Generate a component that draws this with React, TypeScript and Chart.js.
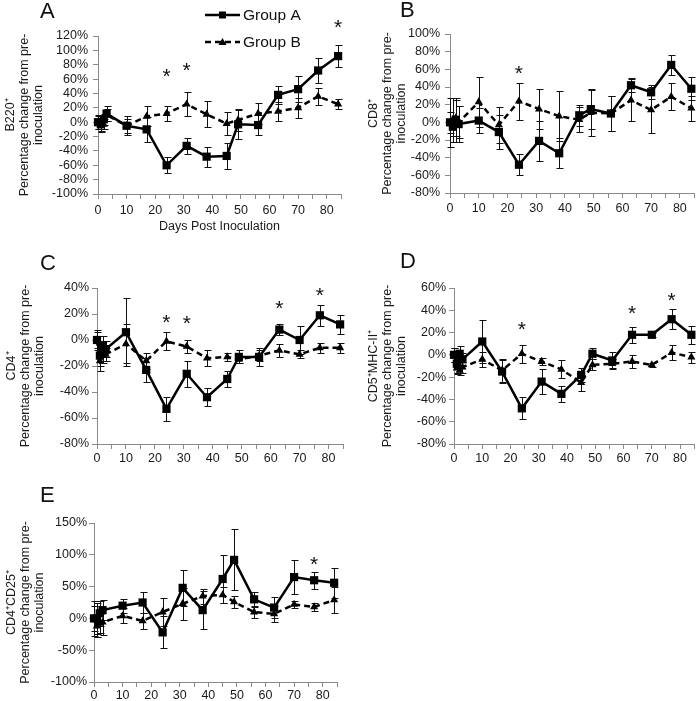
import React, { useEffect, useRef } from 'react';
import { Chart, registerables } from 'chart.js';
Chart.register(...registerables);

const FONT = "'Liberation Sans', Arial, Helvetica, sans-serif";

// Days post inoculation (x categories)
const days = [0, 1, 2, 3, 10, 17, 24, 31, 38, 45, 49, 56, 63, 70, 77, 84];
const xTickStep = 5;
const xMax = 85;

// Panel A: B220+
const aGroupA = [0, -3, 4, 12, -5, -10, -60, -33, -48, -47, -3, -4, 38, 46, 72, 92];
const aGroupAErr = [9, 9, 8, 10, 13, 17, 11, 11, 14, 18, 20, 14, 13, 18, 18, 15];
const aGroupB = [0, -5, -3, 10, -5, 8, 12, 25, 11, -2, 3, 12, 15, 20, 36, 25];
const aGroupBErr = [10, 8, 7, 8, 10, 14, 10, 17, 18, 16, 15, 15, 13, 14, 12, 7];
const aStars = [[24, 70], [31, 78], [84, 138]];

// Panel B: CD8+
const bGroupA = [0, -5, 3, -2, 2, -11, -48, -21, -35, 8, 15, 10, 42, 34, 65, 38];
const bGroupAErr = [12, 10, 25, 20, 14, 19, 12, 23, 17, 12, 23, 20, 8, 8, 11, 13];
const bGroupB = [0, 3, 5, 0, 23, -3, 24, 15, 7, 3, 11, 10, 25, 14, 29, 16];
const bGroupBErr = [28, 25, 20, 18, 28, 20, 21, 23, 28, 14, 26, 20, 24, 26, 15, 14];
const bStars = [[24, 60]];

// Panel C: CD4+
const cGroupA = [0, -12, -4, -7, 6, -23, -53, -26, -44, -30, -13, -13, 8, 0, 19, 12];
const cGroupAErr = [8, 8, 7, 6, 26, 9, 9, 10, 7, 6, 5, 7, 4, 11, 8, 7];
const cGroupB = [0, -16, -12, -11, -3, -16, -1, -5, -14, -13, -15, -12, -8, -11, -6, -6];
const cGroupBErr = [6, 8, 6, 5, 15, 6, 7, 5, 6, 3, 3, 4, 5, 3, 4, 4];
const cStars = [[24, 17], [31, 16], [63, 28], [77, 38]];

// Panel D: CD5+MHC-II+
const dGroupA = [0, -8, 1, -4, 12, -15, -48, -24, -35, -18, 1, -5, 18, 18, 32, 18];
const dGroupAErr = [6, 8, 7, 6, 19, 10, 10, 11, 7, 6, 5, 8, 7, 2, 9, 8];
const dGroupB = [0, -12, -14, -11, -4, -14, 1, -6, -13, -25, -9, -8, -6, -9, 2, -2];
const dGroupBErr = [6, 5, 4, 5, 7, 10, 8, 3, 8, 7, 5, 4, 6, 2, 7, 5];
const dStars = [[24, 27], [63, 41], [77, 53]];

// Panel E: CD4+CD25+
const eGroupA = [0, 0, 8, 13, 20, 25, -22, 48, 13, 62, 92, 30, 17, 65, 60, 56];
const eGroupAErr = [28, 25, 20, 16, 11, 17, 25, 28, 30, 38, 48, 12, 17, 27, 13, 24];
const eGroupB = [0, -12, -8, -6, 4, -4, 10, 23, 35, 37, 26, 10, 7, 22, 18, 29];
const eGroupBErr = [20, 18, 15, 20, 12, 13, 22, 25, 12, 13, 9, 10, 13, 6, 7, 21];
const eStars = [[77, 92]];

const seriesNames = ['Group A', 'Group B'];

type Panel = {
  letter: string;
  letterPos: [number, number];
  left: number; top: number; width: number; height: number;
  pad: { left: number; top: number; right: number; bottom: number };
  yWidth: number; xHeight: number; titlePad: number; xTickPad: number; yTickPad: number;
  yMin: number; yMax: number; yStep: number;
  yTitle: string[]; xTitle?: string;
  ga: number[]; gaErr: number[]; gb: number[]; gbErr: number[];
  stars: number[][];
  legend?: boolean;
};

const panels: Panel[] = [
  {
    letter: 'A', letterPos: [40, 18], left: 0, top: 0, width: 350, height: 235,
    pad: { left: 0, top: 36, right: 9, bottom: 1 }, yWidth: 98, xHeight: 40, titlePad: 4, xTickPad: 4.5, yTickPad: 5,
    yMin: -100, yMax: 120, yStep: 20,
    yTitle: ['B220\u207A', 'Percentage change from pre-', 'inoculation'], xTitle: 'Days Post Inoculation',
    ga: aGroupA, gaErr: aGroupAErr, gb: aGroupB, gbErr: aGroupBErr, stars: aStars, legend: true,
  },
  {
    letter: 'B', letterPos: [50, 17], left: 350, top: 0, width: 350, height: 235,
    pad: { left: 14, top: 34, right: 3, bottom: 17 }, yWidth: 86, xHeight: 25, titlePad: 3, xTickPad: 3, yTickPad: 5,
    yMin: -80, yMax: 100, yStep: 20,
    yTitle: ['CD8\u207A', 'Percentage change from pre-', 'inoculation'],
    ga: bGroupA, gaErr: bGroupAErr, gb: bGroupB, gbErr: bGroupBErr, stars: bStars,
  },
  {
    letter: 'C', letterPos: [40, 35], left: 0, top: 235, width: 350, height: 235,
    pad: { left: 0, top: 53, right: 7, bottom: 1 }, yWidth: 97, xHeight: 25, titlePad: 5, xTickPad: 2, yTickPad: 3,
    yMin: -80, yMax: 40, yStep: 20,
    yTitle: ['CD4\u207A', 'Percentage change from pre-', 'inoculation'],
    ga: cGroupA, gaErr: cGroupAErr, gb: cGroupB, gbErr: cGroupBErr, stars: cStars,
  },
  {
    letter: 'D', letterPos: [50, 33], left: 350, top: 235, width: 350, height: 235,
    pad: { left: 14, top: 53, right: 1, bottom: 1 }, yWidth: 90, xHeight: 25, titlePad: 3, xTickPad: 2, yTickPad: 3,
    yMin: -80, yMax: 60, yStep: 20,
    yTitle: ['CD5\u207AMHC-II\u207A', 'Percentage change from pre-', 'inoculation'],
    ga: dGroupA, gaErr: dGroupAErr, gb: dGroupB, gbErr: dGroupBErr, stars: dStars,
  },
  {
    letter: 'E', letterPos: [40, 37], left: 0, top: 465, width: 350, height: 236,
    pad: { left: 0, top: 58, right: 13, bottom: 0 }, yWidth: 94, xHeight: 19, titlePad: 5, xTickPad: 1.5, yTickPad: 2,
    yMin: -100, yMax: 150, yStep: 50,
    yTitle: ['CD4\u207ACD25\u207A', 'Percentage change from pre-', 'inoculation'],
    ga: eGroupA, gaErr: eGroupAErr, gb: eGroupB, gbErr: eGroupBErr, stars: eStars,
  },
];

const annotPlugin = {
  id: 'annot',
  beforeDatasetsDraw(chart: any, _args: any, opts: any) {
    const { ctx } = chart;
    const xs = chart.scales.x;
    const ys = chart.scales.y;
    ctx.save();
    ctx.strokeStyle = '#111';
    ctx.lineWidth = 1;
    (opts.series as { vals: number[]; errs: number[] }[]).forEach((s) => {
      s.vals.forEach((v, i) => {
        const e = s.errs[i];
        const x = Math.round(xs.getPixelForValue(days[i])) + 0.5;
        const y1 = Math.round(ys.getPixelForValue(v + e)) + 0.5;
        const y2 = Math.round(ys.getPixelForValue(v - e)) + 0.5;
        ctx.beginPath();
        ctx.moveTo(x, y1); ctx.lineTo(x, y2);
        ctx.moveTo(x - 3, y1); ctx.lineTo(x + 4, y1);
        ctx.moveTo(x - 3, y2); ctx.lineTo(x + 4, y2);
        ctx.stroke();
      });
    });
    ctx.restore();
  },
  afterDraw(chart: any, _args: any, opts: any) {
    const { ctx } = chart;
    const xs = chart.scales.x;
    const ys = chart.scales.y;
    ctx.save();
    ctx.fillStyle = '#111';
    ctx.font = `21px ${FONT}`;
    ctx.textAlign = 'center';
    ctx.textBaseline = 'alphabetic';
    (opts.stars as number[][]).forEach(([d, v]) => {
      ctx.fillText('*', xs.getPixelForValue(d), ys.getPixelForValue(v) + 11);
    });
    // panel letter
    ctx.textAlign = 'left';
    ctx.font = `22px ${FONT}`;
    ctx.fillText(opts.letter, opts.letterPos[0], opts.letterPos[1]);
    // legend
    if (opts.legend) {
      const rows = [
        { y: 15, ds: chart.data.datasets[0] },
        { y: 42, ds: chart.data.datasets[1] },
      ];
      rows.forEach((r) => {
        ctx.save();
        ctx.strokeStyle = r.ds.borderColor;
        ctx.lineWidth = r.ds.borderWidth;
        ctx.setLineDash(r.ds.borderDash || []);
        ctx.beginPath();
        ctx.moveTo(205, r.y);
        ctx.lineTo(240, r.y);
        ctx.stroke();
        ctx.restore();
        ctx.fillStyle = '#000';
        if (r.ds.pointStyle === 'rect') {
          ctx.fillRect(219, r.y - 3.5, 7, 7);
        } else {
          ctx.beginPath();
          ctx.moveTo(222.5, r.y - 4);
          ctx.lineTo(226.5, r.y + 3);
          ctx.lineTo(218.5, r.y + 3);
          ctx.closePath();
          ctx.fill();
        }
        ctx.fillStyle = '#111';
        ctx.font = `15.5px ${FONT}`;
        ctx.textBaseline = 'middle';
        ctx.fillText(r.ds.label, 243, r.y + 1);
        ctx.textBaseline = 'alphabetic';
      });
    }
    ctx.restore();
  },
};

function PanelChart({ p }: { p: Panel }) {
  const ref = useRef<HTMLCanvasElement>(null);
  useEffect(() => {
    if (!ref.current) return;
    const tickFont = { family: FONT, size: 12.5 };
    const axisColor = '#8a8a8a';
    const chart = new Chart(ref.current, {
      type: 'line',
      data: {
        datasets: [
          {
            label: seriesNames[0],
            data: days.map((d, i) => ({ x: d, y: p.ga[i] })),
            borderColor: '#000',
            backgroundColor: '#000',
            borderWidth: 2.5,
            pointStyle: 'rect',
            pointRadius: 5.8,
            pointBorderWidth: 0,
            tension: 0,
            clip: false,
            order: 1,
          } as any,
          {
            label: seriesNames[1],
            data: days.map((d, i) => ({ x: d, y: p.gb[i] })),
            borderColor: '#000',
            backgroundColor: '#000',
            borderWidth: 2.5,
            borderDash: [6, 4],
            pointStyle: 'triangle',
            pointRadius: 4.7,
            pointBorderWidth: 0,
            tension: 0,
            clip: false,
            order: 2,
          } as any,
        ],
      },
      options: {
        animation: false,
        responsive: false,
        events: [],
        layout: { padding: p.pad },
        plugins: {
          legend: { display: false },
          tooltip: { enabled: false },
          annot: {
            series: [
              { vals: p.gb, errs: p.gbErr },
              { vals: p.ga, errs: p.gaErr },
            ],
            stars: p.stars,
            letter: p.letter,
            letterPos: p.letterPos,
            legend: !!p.legend,
          },
        } as any,
        scales: {
          x: {
            type: 'linear',
            min: 0,
            max: xMax,
            ticks: {
              stepSize: xTickStep,
              autoSkip: false,
              maxRotation: 0,
              font: tickFont,
              color: '#1a1a1a',
              padding: p.xTickPad,
              callback: (v: any) => (Number(v) % 10 === 0 ? String(v) : ''),
            },
            grid: { display: true, drawOnChartArea: false, drawTicks: true, tickLength: 5, color: axisColor },
            border: { display: true, color: axisColor, width: 1 },
            title: p.xTitle
              ? { display: true, text: p.xTitle, font: { family: FONT, size: 12.5 }, color: '#1a1a1a', padding: { top: 0, bottom: 0 } }
              : { display: false },
            afterFit: (s: any) => { s.height = p.xHeight; },
          } as any,
          y: {
            min: p.yMin,
            max: p.yMax,
            ticks: {
              stepSize: p.yStep,
              autoSkip: false,
              font: tickFont,
              color: '#1a1a1a',
              padding: p.yTickPad,
              callback: (v: any) => `${v}%`,
            },
            grid: { display: true, drawOnChartArea: false, drawTicks: true, tickLength: 5, color: axisColor },
            border: { display: true, color: axisColor, width: 1 },
            title: {
              display: true,
              text: p.yTitle,
              font: { family: FONT, size: 12.5, lineHeight: 1.1 },
              color: '#1a1a1a',
              padding: { top: p.titlePad, bottom: 0 },
            },
            afterFit: (s: any) => { s.width = p.yWidth; },
          } as any,
        },
      },
      plugins: [annotPlugin],
    });
    return () => chart.destroy();
  }, [p]);
  return (
    <canvas
      ref={ref}
      width={p.width}
      height={p.height}
      style={{ position: 'absolute', left: p.left, top: p.top, width: p.width, height: p.height }}
    />
  );
}

export default function App() {
  return (
    <div style={{ position: 'absolute', left: 0, top: 0, width: 700, height: 701, background: '#fff', overflow: 'hidden' }}>
      {panels.map((p) => (
        <PanelChart key={p.letter} p={p} />
      ))}
    </div>
  );
}
